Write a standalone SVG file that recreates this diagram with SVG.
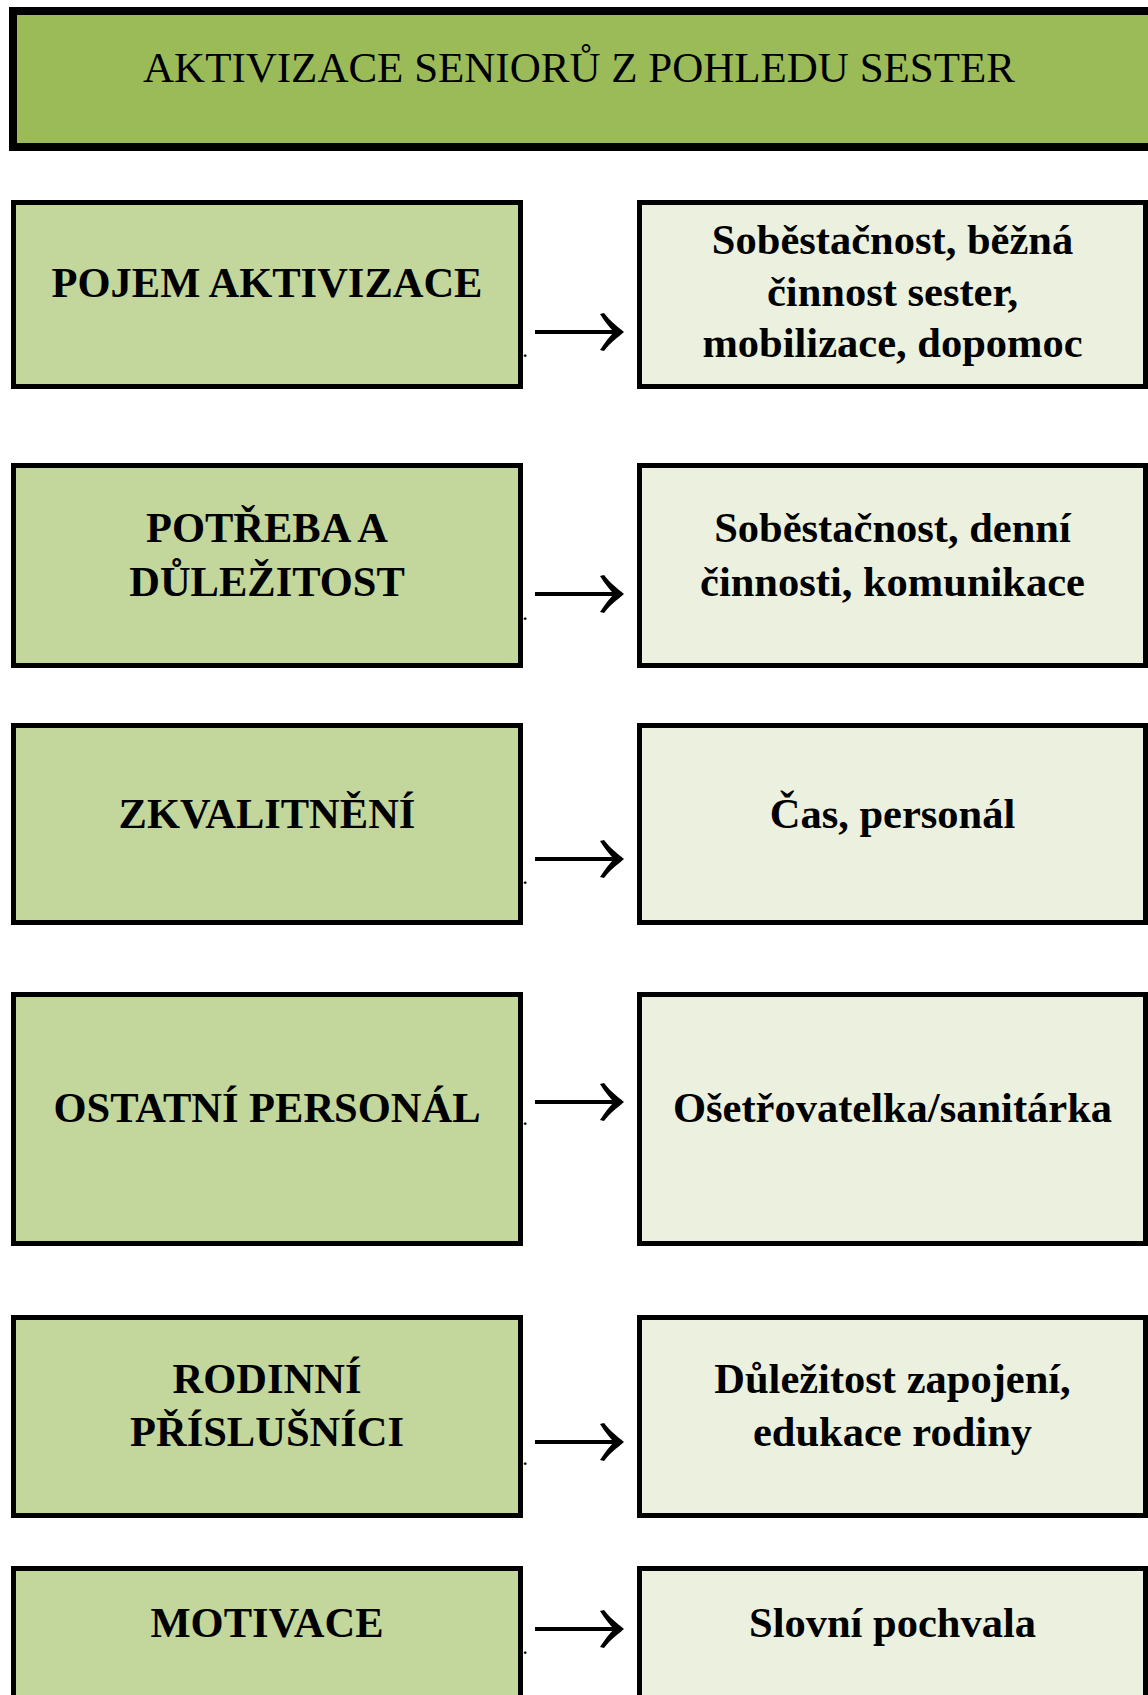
<svg xmlns="http://www.w3.org/2000/svg" width="1148" height="1695" viewBox="0 0 1148 1695">
<style>
.hdr{fill:#9BBB59;stroke:#000;stroke-width:8}
.lb{fill:#C3D69B;stroke:#000;stroke-width:5}
.rb{fill:#EBF1DE;stroke:#000;stroke-width:5}
.ht{font-family:"Liberation Serif","Times New Roman",serif;font-size:43px;fill:#000;text-anchor:middle}
.t{font-family:"Liberation Serif","Times New Roman",serif;font-size:42.5px;font-weight:bold;fill:#000;text-anchor:middle}
.dot{font-family:"Liberation Serif","Times New Roman",serif;font-size:17px;font-weight:bold;fill:#000}
.conn{stroke:#000;stroke-width:4.2;fill:none;marker-end:url(#ah)}
</style>
<defs>
<marker id="ah" markerUnits="userSpaceOnUse" viewBox="-26 -21 28 42" markerWidth="28" markerHeight="42" refX="-7" refY="0" orient="auto">
<path d="M1,0 C-6,-6 -13,-11 -19,-19 L-23,-18 C-18,-10 -13,-4 -9,0 C-13,4 -18,10 -23,18 L-19,19 C-13,11 -6,6 1,0 Z" fill="#000"/>
</marker>
</defs>
<rect width="1148" height="1695" fill="#fff"/>
<g id="header">
<rect class="hdr" x="13" y="11" width="1144" height="136"/>
<text class="ht" x="579" y="82">AKTIVIZACE SENIORŮ Z POHLEDU SESTER</text>
</g>
<g id="n1">
<rect class="lb" x="13.5" y="202.5" width="507" height="184"/>
<text class="t" x="267" y="297">POJEM AKTIVIZACE</text>
</g>
<g id="n1r">
<rect class="rb" x="639.5" y="202.5" width="506" height="184"/>
<text class="t" x="892.5" y="254">Soběstačnost, běžná</text>
<text class="t" x="892.5" y="306">činnost sester,</text>
<text class="t" x="892.5" y="357">mobilizace, dopomoc</text>
</g>
<g id="n2">
<rect class="lb" x="13.5" y="465.5" width="507" height="200"/>
<text class="t" x="267" y="542">POTŘEBA A</text>
<text class="t" x="267" y="596">DŮLEŽITOST</text>
</g>
<g id="n2r">
<rect class="rb" x="639.5" y="465.5" width="506" height="200"/>
<text class="t" x="892.5" y="542">Soběstačnost, denní</text>
<text class="t" x="892.5" y="596">činnosti, komunikace</text>
</g>
<g id="n3">
<rect class="lb" x="13.5" y="725.5" width="507" height="197"/>
<text class="t" x="267" y="828">ZKVALITNĚNÍ</text>
</g>
<g id="n3r">
<rect class="rb" x="639.5" y="725.5" width="506" height="197"/>
<text class="t" x="892.5" y="828">Čas, personál</text>
</g>
<g id="n4">
<rect class="lb" x="13.5" y="994.5" width="507" height="249"/>
<text class="t" x="267" y="1122">OSTATNÍ PERSONÁL</text>
</g>
<g id="n4r">
<rect class="rb" x="639.5" y="994.5" width="506" height="249"/>
<text class="t" x="892.5" y="1122">Ošetřovatelka/sanitárka</text>
</g>
<g id="n5">
<rect class="lb" x="13.5" y="1317.5" width="507" height="198"/>
<text class="t" x="267" y="1393">RODINNÍ</text>
<text class="t" x="267" y="1446">PŘÍSLUŠNÍCI</text>
</g>
<g id="n5r">
<rect class="rb" x="639.5" y="1317.5" width="506" height="198"/>
<text class="t" x="892.5" y="1393">Důležitost zapojení,</text>
<text class="t" x="892.5" y="1446">edukace rodiny</text>
</g>
<g id="n6">
<rect class="lb" x="13.5" y="1568.5" width="507" height="200"/>
<text class="t" x="267" y="1637">MOTIVACE</text>
</g>
<g id="n6r">
<rect class="rb" x="639.5" y="1568.5" width="506" height="200"/>
<text class="t" x="892.5" y="1637">Slovní pochvala</text>
</g>
<g id="connectors">
<line class="conn" x1="535" y1="332" x2="616" y2="332"/>
<line class="conn" x1="535" y1="594" x2="616" y2="594"/>
<line class="conn" x1="535" y1="859" x2="616" y2="859"/>
<line class="conn" x1="535" y1="1102" x2="616" y2="1102"/>
<line class="conn" x1="535" y1="1442" x2="616" y2="1442"/>
<line class="conn" x1="535" y1="1629" x2="616" y2="1629"/>
</g>
<g id="dots">
<text class="dot" x="523" y="357">.</text>
<text class="dot" x="523" y="620">.</text>
<text class="dot" x="523" y="884">.</text>
<text class="dot" x="523" y="1125">.</text>
<text class="dot" x="523" y="1465">.</text>
<text class="dot" x="523" y="1654">.</text>
</g>
</svg>
